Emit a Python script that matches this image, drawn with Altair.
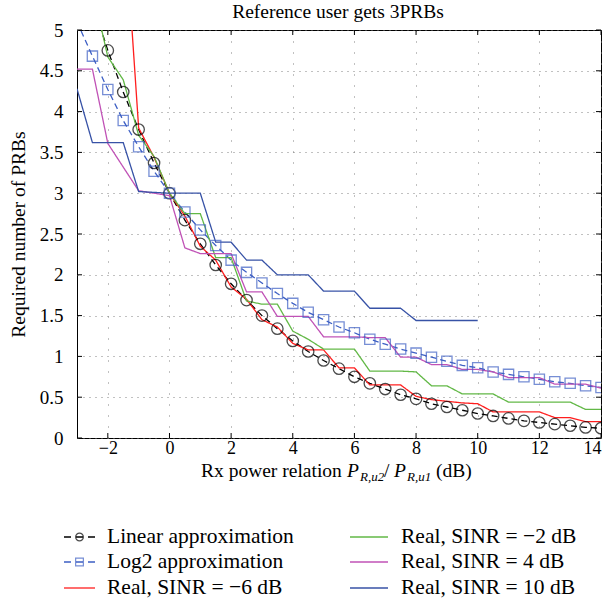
import altair as alt
import pandas as pd

FONT = "Liberation Serif, Times New Roman, Times, Nimbus Roman, DejaVu Serif, serif"

# ---------------- data ----------------
X_DB = [-3.0, -2.5, -2.0, -1.5, -1.0, -0.5, 0.0, 0.5, 1.0, 1.5, 2.0, 2.5, 3.0, 3.5,
        4.0, 4.5, 5.0, 5.5, 6.0, 6.5, 7.0, 7.5, 8.0, 8.5, 9.0, 9.5, 10.0, 10.5,
        11.0, 11.5, 12.0, 12.5, 13.0, 13.5, 14.0]

LINEAR = [5.99, 5.34, 4.75, 4.24, 3.78, 3.37, 3.00, 2.67, 2.38, 2.12, 1.89, 1.69, 1.50, 1.34,
          1.19, 1.06, 0.95, 0.85, 0.75, 0.67, 0.60, 0.53, 0.48, 0.42, 0.38, 0.34, 0.30, 0.27,
          0.24, 0.21, 0.19, 0.17, 0.15, 0.13, 0.12]
LOG2 = [5.10, 4.68, 4.27, 3.89, 3.57, 3.27, 3.00, 2.77, 2.55, 2.36, 2.18, 2.03, 1.90, 1.77,
        1.65, 1.54, 1.45, 1.36, 1.29, 1.21, 1.15, 1.09, 1.04, 0.99, 0.94, 0.89, 0.86, 0.81,
        0.78, 0.75, 0.72, 0.69, 0.67, 0.64, 0.62]
REAL_M6 = [None, None, None, 6.60, 3.80, 3.44, 3.00, 2.72, 2.35, 2.18, 1.85, 1.70, 1.45, 1.36,
           1.16, 1.08, 1.08, 0.86, 0.86, 0.65, 0.65, 0.65, 0.51, 0.47, 0.45, 0.43, 0.42, 0.32,
           0.32, 0.32, 0.32, 0.25, 0.25, 0.20, 0.20]
REAL_M2 = [6.20, 5.50, 4.67, 4.39, 3.71, 3.45, 3.00, 2.75, 2.75, 2.21, 2.21, 1.68, 1.64, 1.64,
           1.31, 1.21, 1.09, 1.09, 1.09, 0.82, 0.82, 0.82, 0.81, 0.64, 0.64, 0.54, 0.54, 0.54,
           0.44, 0.44, 0.44, 0.44, 0.44, 0.35, 0.35]
REAL_4 = [4.52, 4.52, 3.61, 3.32, 3.03, 3.00, 2.97, 2.33, 2.26, 2.26, 2.26, 1.79, 1.79, 1.49,
          1.49, 1.49, 1.24, 1.24, 1.24, 1.23, 1.23, 0.99, 0.99, 0.90, 0.90, 0.84, 0.84, 0.81,
          0.74, 0.74, 0.74, 0.66, 0.66, 0.66, 0.61]
REAL_10 = [4.28, 3.62, 3.62, 3.62, 3.02, 3.01, 3.00, 3.00, 3.00, 2.40, 2.40, 2.18, 2.18, 2.00,
           2.00, 2.00, 1.80, 1.80, 1.80, 1.59, 1.59, 1.59, 1.44, 1.44, 1.44, 1.44, 1.44, None,
           None, None, None, None, None, None, None]

SERIES = ["Linear approximation", "Log2 approximation", "Real, SINR = \u22126 dB",
          "Real, SINR = \u22122 dB", "Real, SINR = 4 dB", "Real, SINR = 10 dB"]
VALUES = [LINEAR, LOG2, REAL_M6, REAL_M2, REAL_4, REAL_10]

X_TICKS = [-2, 0, 2, 4, 6, 8, 10, 12, 14]
Y_TICKS = [0, 0.5, 1, 1.5, 2, 2.5, 3, 3.5, 4, 4.5, 5]
TITLE = "Reference user gets 3PRBs"

# ---------------- styles ----------------
COLORS = ["#000000", "#3d5fc4", "#ff1e1e", "#62b846", "#c052b6", "#3752a6"]
DASHES = [[6, 4], [6, 4], [1, 0], [1, 0], [1, 0], [1, 0]]

rows = []
for name, vals in zip(SERIES, VALUES):
    for xv, yv in zip(X_DB, vals):
        if yv is not None:
            rows.append({"x": xv, "y": yv, "series": name})
df = pd.DataFrame(rows)

W, H = 524, 408
xscale = alt.Scale(domain=[-3, 14], nice=False, zero=False)
yscale = alt.Scale(domain=[0, 5], nice=False)

xaxis = alt.Axis(values=X_TICKS, format="d", labelPadding=1, labelFontSize=18, grid=True,
                 gridDash=[1, 10], title=None)
yaxis = alt.Axis(values=Y_TICKS, format="~g", labelPadding=14, grid=True, gridDash=[1, 5],
                 title="Required number of PRBs", titleFont=FONT, titleFontSize=19.5,
                 titleFontWeight="normal", titleX=-59, titleY=H / 2, titleAngle=270,
                 titleAlign="center", titleBaseline="middle", titleColor="black")

lines = alt.Chart(df).mark_line(clip=True, strokeWidth=1.3).encode(
    x=alt.X("x:Q", scale=xscale, axis=xaxis),
    y=alt.Y("y:Q", scale=yscale, axis=yaxis),
    color=alt.Color("series:N", scale=alt.Scale(domain=SERIES, range=COLORS), legend=None),
    strokeDash=alt.StrokeDash("series:N", scale=alt.Scale(domain=SERIES, range=DASHES),
                              legend=None),
)

lin_pts = alt.Chart(df[df.series == SERIES[0]]).mark_point(
    shape="circle", filled=False, size=130, strokeWidth=1.3, color=COLORS[0], clip=True
).encode(x="x:Q", y="y:Q")
log_pts = alt.Chart(df[df.series == SERIES[1]]).mark_point(
    shape="square", filled=False, size=105, strokeWidth=1.3, color=COLORS[1], clip=True
).encode(x="x:Q", y="y:Q")

# inward ticks on all four sides
xt = pd.DataFrame({"x": X_TICKS})
yt = pd.DataFrame({"y": Y_TICKS})
TL = 5
tick_layers = [
    alt.Chart(xt).mark_rule(color="black").encode(x="x:Q", y=alt.value(H), y2=alt.value(H - TL)),
    alt.Chart(xt).mark_rule(color="black").encode(x="x:Q", y=alt.value(0), y2=alt.value(TL)),
    alt.Chart(yt).mark_rule(color="black").encode(y="y:Q", x=alt.value(0), x2=alt.value(TL)),
    alt.Chart(yt).mark_rule(color="black").encode(y="y:Q", x=alt.value(W), x2=alt.value(W - TL)),
]

one = pd.DataFrame({"k": [0]})

# chart title as a text mark above the plot
title_layer = alt.Chart(one).mark_text(
    align="center", baseline="alphabetic", font=FONT, fontSize=19.5, color="black"
).encode(x=alt.value(W / 2 - 1), y=alt.value(-12), text=alt.value(TITLE))

# x-axis title with italic symbols and subscripts
XT_BASE = 447
X0 = 124
xt_pieces = [
    ("Rx power relation", 0, 19.5, "normal", 0),
    ("P", 146, 19.5, "italic", 0),
    ("R,u2", 159, 13, "italic", 4),
    ("/", 183, 19.5, "normal", 0),
    ("P", 193, 19.5, "italic", 0),
    ("R,u1", 206, 13, "italic", 4),
    ("(dB)", 235, 19.5, "normal", 0),
]
xtitle_layers = [
    alt.Chart(one).mark_text(align="left", baseline="alphabetic", font=FONT, fontSize=fs,
                             fontStyle=st, color="black").encode(
        x=alt.value(X0 + px), y=alt.value(XT_BASE + dy), text=alt.value(txt))
    for txt, px, fs, st, dy in xt_pieces
]

# legend (two columns, three rows)
LEG_ROWS = [507, 532, 558]
LEG_COLS = [(-13, 18, 30), (273, 311, 324)]
SHAPES = ["circle", "square", None, None, None, None]
legend_layers = []
for i, name in enumerate(SERIES):
    x1, x2, tx = LEG_COLS[i // 3]
    yr = LEG_ROWS[i % 3]
    rule_kw = dict(color=COLORS[i], strokeWidth=1.3)
    if i < 2:
        rule_kw["strokeDash"] = [7, 5]
    legend_layers.append(alt.Chart(one).mark_rule(**rule_kw).encode(
        x=alt.value(x1), x2=alt.value(x2), y=alt.value(yr)))
    if SHAPES[i]:
        legend_layers.append(alt.Chart(one).mark_point(
            shape=SHAPES[i], filled=False, size=60, strokeWidth=1.2, color=COLORS[i]).encode(
            x=alt.value((x1 + x2) / 2), y=alt.value(yr)))
    legend_layers.append(alt.Chart(one).mark_text(
        align="left", baseline="middle", font=FONT, fontSize=21.5, color="black").encode(
        x=alt.value(tx), y=alt.value(yr), text=alt.value(name)))

chart = alt.layer(
    lines, lin_pts, log_pts, *tick_layers, title_layer, *xtitle_layers, *legend_layers
).properties(
    width=W, height=H,
    autosize=alt.AutoSizeParams(type="none"),
    padding={"left": 77, "top": 30, "right": 12, "bottom": 169},
    background="white",
).configure_view(
    stroke="black", strokeWidth=1
).configure_axis(
    labelFont=FONT, labelFontSize=19, labelColor="black", domain=False, ticks=False,
    gridColor="#777777", gridWidth=1, gridOpacity=0.9
)

chart.save("out.html", embed_options={"renderer": "svg", "actions": False})
